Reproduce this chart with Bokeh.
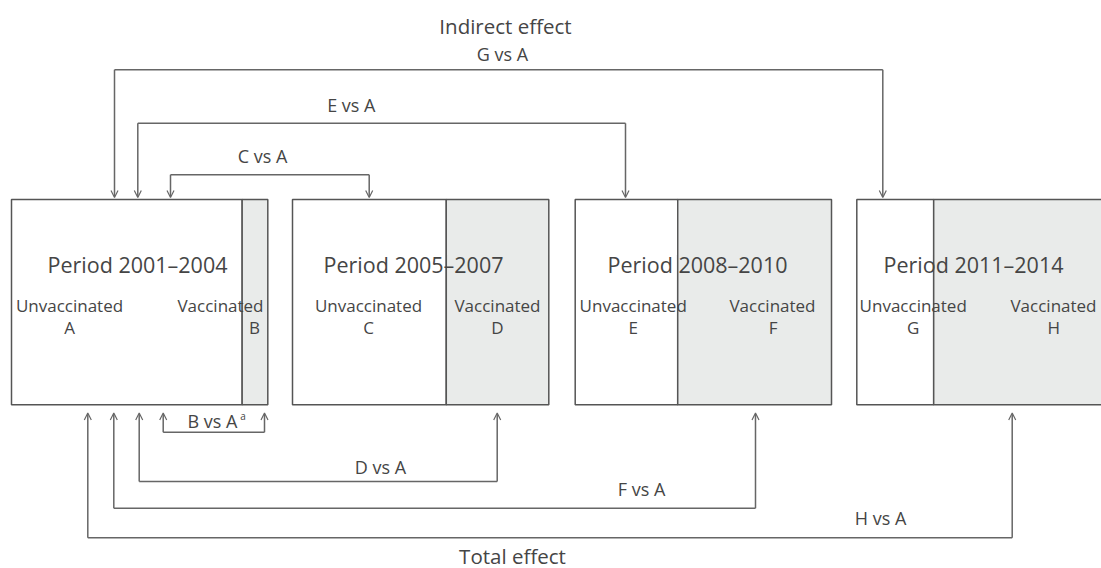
from bokeh.plotting import figure
from bokeh.models import Range1d, Arrow, OpenHead, ColumnDataSource
from bokeh.core.properties import value
from bokeh.embed import file_html
from bokeh.resources import INLINE

# ---- data ----
periods = ["Period 2001\u20132004", "Period 2005\u20132007", "Period 2008\u20132010", "Period 2011\u20132014"]
unvacc_labels = ["A", "C", "E", "G"]
vacc_labels = ["B", "D", "F", "H"]
unvacc_share = [0.90, 0.60, 0.40, 0.30]   # share of box width that is unvaccinated

indirect_names = ["C vs A", "E vs A", "G vs A"]
total_names = ["B vs A", "D vs A", "F vs A", "H vs A"]

# ---- layout (pixel space) ----
W, H = 1101, 568
FONT = value("Open Sans")
TXT = "#454545"
LINE = "#666666"
FILL = "#e9ebea"

box_left = [11, 292, 574.7, 856.3]
box_w = 256.3
box_top, box_bot = 199, 404.3

period_x = [137, 413, 697, 973]
unv_x = [69, 368, 632.7, 912.7]
vac_x = [220, 497, 772, 1053]
vac_letter_x = [254, 497, 772.7, 1053.3]

p = figure(width=W, height=H, x_range=Range1d(0, W), y_range=Range1d(H, 0),
           output_backend="svg", toolbar_location=None, min_border=0)
p.axis.visible = False
p.grid.visible = False
p.outline_line_color = None
p.background_fill_color = "white"

# boxes
divs = [l + s * box_w for l, s in zip(box_left, unvacc_share)]
rights = [l + box_w for l in box_left]
p.quad(left=box_left, right=divs, top=[box_top] * 4, bottom=[box_bot] * 4,
       fill_color="white", line_color="#555555", line_width=1.5)
p.quad(left=divs, right=rights, top=[box_top] * 4, bottom=[box_bot] * 4,
       fill_color=FILL, line_color="#555555", line_width=1.5)

# box texts
p.text(x=period_x, y=[264] * 4, text=periods, text_font=FONT, text_font_size="21.5px",
       text_color=TXT, text_align="center", text_baseline="middle")
p.text(x=unv_x, y=[305] * 4, text=["Unvaccinated"] * 4, text_font=FONT, text_font_size="17px",
       text_color=TXT, text_align="center", text_baseline="middle")
p.text(x=unv_x, y=[327] * 4, text=unvacc_labels, text_font=FONT, text_font_size="17px",
       text_color=TXT, text_align="center", text_baseline="middle")
p.text(x=vac_x, y=[305] * 4, text=["Vaccinated"] * 4, text_font=FONT, text_font_size="17px",
       text_color=TXT, text_align="center", text_baseline="middle")
p.text(x=vac_letter_x, y=[327] * 4, text=vacc_labels, text_font=FONT, text_font_size="17px",
       text_color=TXT, text_align="center", text_baseline="middle")

# connectors: indirect (above, pointing down), total (below, pointing up)
ind_x1 = [170, 137.3, 114]
ind_x2 = [368.7, 625, 882.3]
ind_y = [174.3, 122.7, 69.3]
ind_tip = 197
ind_lab_x = [262, 350.8, 502]
ind_lab_y = [155, 104, 53]

tot_x1 = [162.7, 138.7, 113.3, 87.3]
tot_x2 = [264, 496.7, 755, 1011.7]
tot_y = [431.7, 481, 507.7, 537.3]
tot_tip = 412.5
tot_lab_x = [212, 380, 641, 880]
tot_lab_y = [420, 466, 488, 517.3]

def connectors(x1, x2, ylev, tip):
    p.segment(x0=x1, y0=ylev, x1=x2, y1=ylev, line_color=LINE, line_width=1.5)
    xs = list(x1) + list(x2)
    ys = list(ylev) + list(ylev)
    src = ColumnDataSource(dict(xs=xs, ys=ys, xe=xs, ye=[tip] * len(xs)))
    p.add_layout(Arrow(source=src, x_start="xs", y_start="ys", x_end="xe", y_end="ye",
                       line_color=LINE, line_width=1.5,
                       end=OpenHead(size=7, line_color=LINE, line_width=1.2)))

connectors(ind_x1, ind_x2, ind_y, ind_tip)
connectors(tot_x1, tot_x2, tot_y, tot_tip)

p.text(x=ind_lab_x, y=ind_lab_y, text=indirect_names, text_font=FONT, text_font_size="18px",
       text_color=TXT, text_align="center", text_baseline="middle")
p.text(x=tot_lab_x, y=tot_lab_y, text=total_names, text_font=FONT, text_font_size="18px",
       text_color=TXT, text_align="center", text_baseline="middle")
p.text(x=[242.5], y=[415.5], text=["a"], text_font=FONT, text_font_size="10px",
       text_color=TXT, text_align="center", text_baseline="middle")

p.text(x=[505], y=[25], text=["Indirect effect"], text_font=FONT, text_font_size="20.5px",
       text_color=TXT, text_align="center", text_baseline="middle")
p.text(x=[512], y=[555], text=["Total effect"], text_font=FONT, text_font_size="20.5px",
       text_color=TXT, text_align="center", text_baseline="middle")

open("out.html", "w").write(file_html(p, INLINE))
